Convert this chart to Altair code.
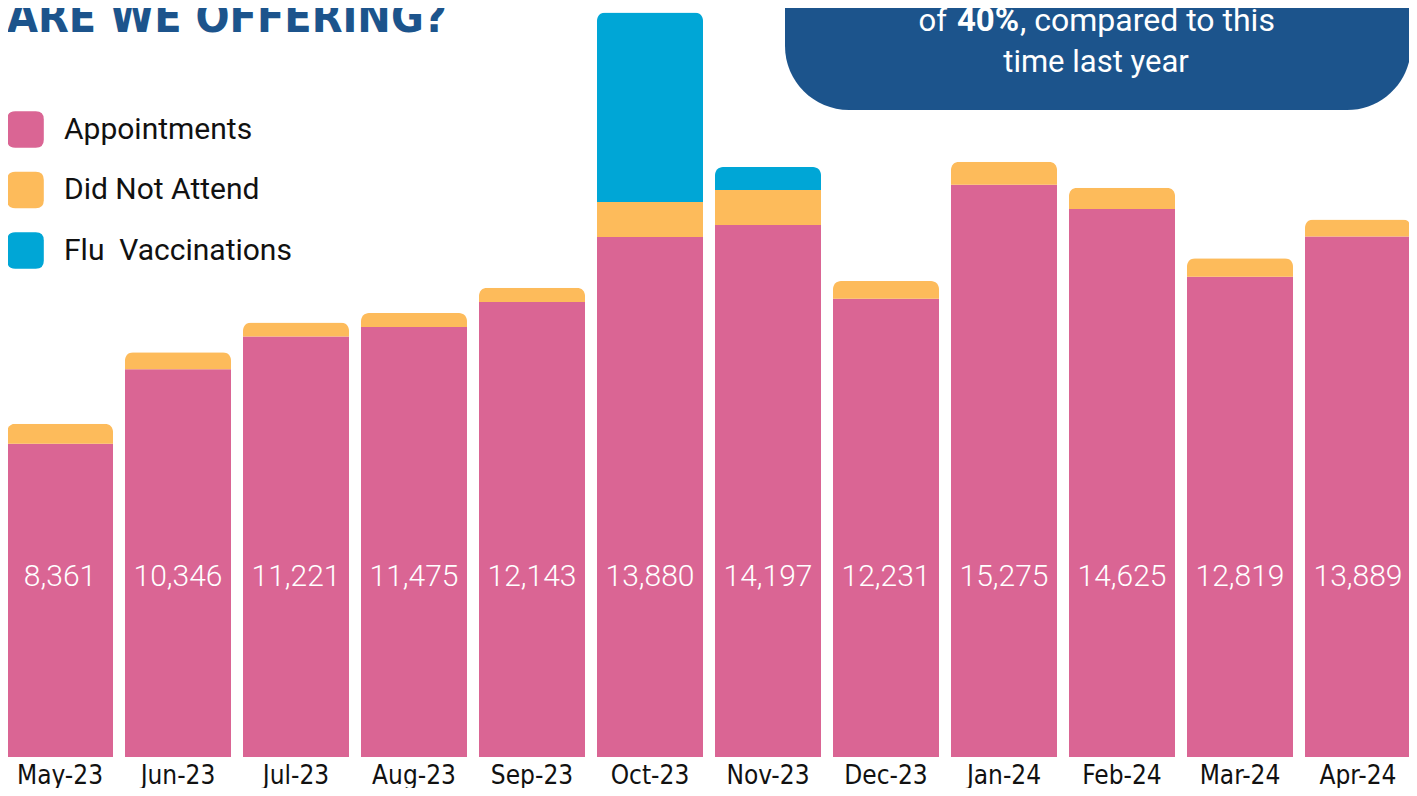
import altair as alt
import pandas as pd

months = ["May-23", "Jun-23", "Jul-23", "Aug-23", "Sep-23", "Oct-23",
          "Nov-23", "Dec-23", "Jan-24", "Feb-24", "Mar-24", "Apr-24"]
appointments = [8361, 10346, 11221, 11475, 12143, 13880,
                14197, 12231, 15275, 14625, 12819, 13889]
did_not_attend = [530, 454, 374, 374, 382, 934, 934, 472, 614, 569, 489, 454]
flu_vaccinations = [0, 0, 0, 0, 0, 5053, 614, 0, 0, 0, 0, 0]
series = ["Appointments", "Did Not Attend", "Flu\u00a0\u00a0Vaccinations"]
colors = ["#da6594", "#fdbb5b", "#00a6d6"]

title_text = ["ARE WE OFFERING?"]
box_line1 = ["of", "40%", ", compared to this"]
box_line2 = ["time last year"]

rows = []
for i, m in enumerate(months):
    for k, vals in enumerate([appointments, did_not_attend, flu_vaccinations]):
        if vals[i] > 0:
            rows.append({"month": m, "series": series[k], "value": vals[i], "order": k})
df = pd.DataFrame(rows)
df_app = pd.DataFrame({"month": months, "value": appointments})

BLUE = "#1c548c"
COND = "DejaVu Sans Condensed, Roboto Condensed, Roboto, sans-serif"
rounded = ("M-0.56,-1 L0.56,-1 Q1,-1 1,-0.56 L1,0.56 Q1,1 0.56,1 "
           "L-0.56,1 Q-1,1 -1,0.56 L-1,-0.56 Q-1,-1 -0.56,-1 Z")

xscale = alt.Scale(domain=months, range=[-1, 1403], paddingInner=12 / 118, paddingOuter=0)
yscale = alt.Scale(domain=[0, 19990], nice=False, zero=True)

bars = alt.Chart(df).mark_bar(cornerRadiusEnd=8).encode(
    x=alt.X("month:N", scale=xscale, sort=months,
            axis=alt.Axis(title=None, labelAngle=0, domain=False, ticks=False,
                          labelFont=COND, labelFontSize=26,
                          labelColor="#111111", labelBaseline="alphabetic",
                          labelPadding=26)),
    y=alt.Y("value:Q", stack="zero", scale=yscale, axis=None),
    color=alt.Color("series:N", scale=alt.Scale(domain=series, range=colors),
                    legend=alt.Legend(title=None, orient="none", legendX=-1, legendY=103,
                                      symbolType=rounded, symbolSize=1340,
                                      symbolStrokeWidth=0, symbolOpacity=1,
                                      labelFont="Roboto", labelFontSize=30,
                                      labelColor="#111111", labelOffset=20,
                                      rowPadding=23.5, padding=0, labelLimit=0)),
    order=alt.Order("order:Q", sort="ascending"),
)

labels = alt.Chart(df_app).mark_text(
    color="white", font="Roboto", fontSize=30, fontWeight=300, baseline="middle"
).encode(
    x=alt.X("month:N", scale=xscale, sort=months, bandPosition=0.5),
    y=alt.value(569),
    text=alt.Text("value:Q", format=","),
)

title = alt.Chart(pd.DataFrame({"t": title_text})).mark_text(
    align="left", baseline="alphabetic", font=COND,
    fontWeight="bold", fontSize=44.5, color=BLUE
).encode(x=alt.value(-1), y=alt.value(24), text="t:N")

box = alt.Chart(pd.DataFrame({"b": [1]})).mark_rect(
    color=BLUE, cornerRadius=64
).encode(x=alt.value(777), x2=alt.value(1403), y=alt.value(-140), y2=alt.value(102))

l1 = pd.DataFrame({"t": box_line1})
of_t = alt.Chart(l1[l1.t == box_line1[0]]).mark_text(
    align="right", baseline="alphabetic", font="Roboto", fontSize=31, color="white"
).encode(x=alt.value(939), y=alt.value(23), text="t:N")
pct_t = alt.Chart(l1[l1.t == box_line1[1]]).mark_text(
    align="center", baseline="alphabetic", font="Roboto", fontSize=33,
    fontWeight="bold", color="white"
).encode(x=alt.value(980), y=alt.value(23), text="t:N")
rest_t = alt.Chart(l1[l1.t == box_line1[2]]).mark_text(
    align="left", baseline="alphabetic", font="Roboto", fontSize=32, color="white"
).encode(x=alt.value(1012), y=alt.value(23), text="t:N")
line2 = alt.Chart(pd.DataFrame({"t": box_line2})).mark_text(
    align="center", baseline="alphabetic", font="Roboto", fontSize=31, color="white"
).encode(x=alt.value(1088), y=alt.value(64), text="t:N")

chart = alt.layer(bars, labels, title, box, of_t, pct_t, rest_t, line2).properties(
    width=1401, height=749,
    autosize=alt.AutoSizeParams(type="none"),
    padding={"left": 0, "top": 0, "right": 0, "bottom": 31},
    background="white",
).configure_view(stroke=None)

chart.save("out.html", embed_options={"renderer": "svg", "actions": False})
